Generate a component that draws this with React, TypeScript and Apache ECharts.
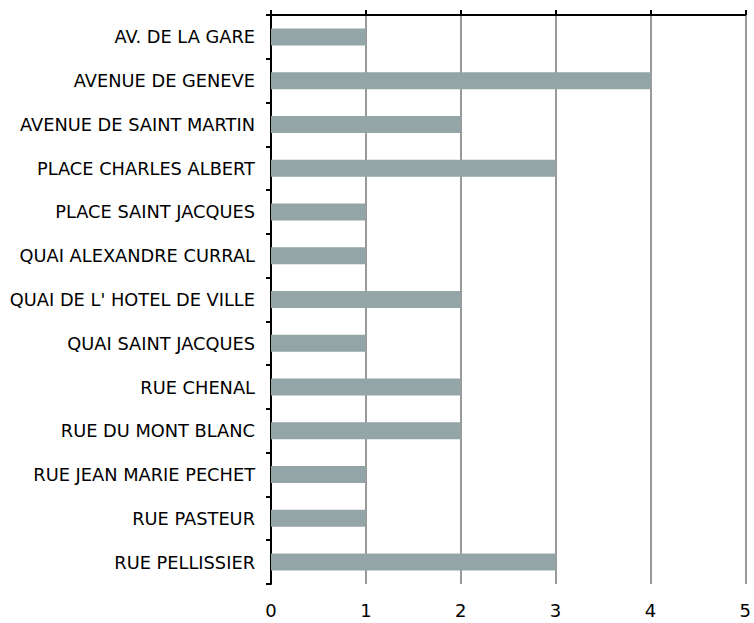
import React, { useEffect, useRef } from "react";
import * as echarts from "echarts";

const categories = [
  "AV. DE LA GARE",
  "AVENUE DE GENEVE",
  "AVENUE DE SAINT MARTIN",
  "PLACE CHARLES ALBERT",
  "PLACE SAINT JACQUES",
  "QUAI ALEXANDRE CURRAL",
  "QUAI DE L' HOTEL DE VILLE",
  "QUAI SAINT JACQUES",
  "RUE CHENAL",
  "RUE DU MONT BLANC",
  "RUE JEAN MARIE PECHET",
  "RUE PASTEUR",
  "RUE PELLISSIER",
];
const values = [1, 4, 2, 3, 1, 1, 2, 1, 2, 2, 1, 1, 3];
const xMin = 0;
const xMax = 5;
const xInterval = 1;

export default function App() {
  const ref = useRef<HTMLDivElement>(null);
  useEffect(() => {
    const chart = echarts.init(ref.current!, null, { renderer: "svg" });
    const font = "'DejaVu Sans', sans-serif";
    chart.setOption({
      animation: false,
      grid: { left: 271, right: 4, top: 15, bottom: 39, containLabel: false },
      xAxis: [
        {
          type: "value",
          position: "bottom",
          min: xMin,
          max: xMax,
          interval: xInterval,
          axisLine: { show: false },
          axisTick: { show: false },
          axisLabel: { color: "#000", fontSize: 18, fontFamily: font, margin: 17 },
          splitLine: { show: true, lineStyle: { color: "#999999", width: 2 } },
        },
        {
          type: "value",
          position: "top",
          min: xMin,
          max: xMax,
          interval: xInterval,
          axisLine: { show: true, lineStyle: { color: "#000", width: 2 } },
          axisTick: { show: true, length: 5, lineStyle: { color: "#000", width: 2 } },
          axisLabel: { show: false },
          splitLine: { show: false },
        },
      ],
      yAxis: {
        type: "category",
        data: categories,
        inverse: true,
        axisLine: { show: true, lineStyle: { color: "#000", width: 2 } },
        axisTick: { show: true, length: 5, lineStyle: { color: "#000", width: 2 } },
        axisLabel: { color: "#000", fontSize: 17.8, fontFamily: font, margin: 16 },
        splitLine: { show: false },
      },
      series: [
        {
          type: "bar",
          data: values,
          xAxisIndex: 0,
          barWidth: 17,
          itemStyle: { color: "#93a5a7" },
        },
      ],
    });
    return () => chart.dispose();
  }, []);
  return (
    <div
      ref={ref}
      style={{ position: "fixed", left: 0, top: 0, width: 754, height: 623, background: "#fff" }}
    />
  );
}
